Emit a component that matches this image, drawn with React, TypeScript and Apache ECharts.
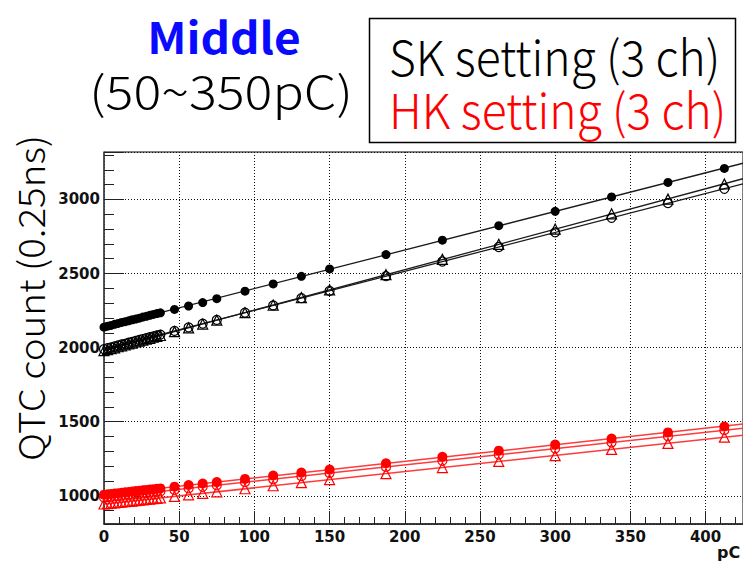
import React, { useEffect, useRef } from "react";
import * as echarts from "echarts";

// Injected charge (pC) for each measurement point
const charge = [
  0, 2.34, 4.69, 7.03, 9.38, 11.72, 14.06, 16.41, 18.75, 21.09, 23.44, 25.78,
  28.13, 30.47, 32.81, 35.16, 37.5, 46.88, 56.25, 65.63, 75, 93.75, 112.5,
  131.25, 150, 187.5, 225, 262.5, 300, 337.5, 375, 412.5,
];

// SK setting, three channels (QTC count, 0.25 ns)
const skCh1 = [
  2138, 2145, 2150, 2157, 2163, 2170, 2175, 2181, 2188, 2193, 2199, 2206,
  2211, 2218, 2224, 2230, 2235, 2258, 2281, 2304, 2330, 2381, 2430, 2481,
  2531, 2628, 2725, 2823, 2920, 3017, 3115, 3209,
];
const skCh2 = [
  1990, 1996, 2002, 2008, 2015, 2021, 2026, 2033, 2039, 2045, 2052, 2058,
  2064, 2070, 2076, 2083, 2088, 2113, 2137, 2162, 2187, 2236, 2285, 2334,
  2383, 2482, 2581, 2679, 2778, 2876, 2975, 3072,
];
const skCh3 = [
  1980, 1986, 1993, 1999, 2006, 2012, 2019, 2025, 2031, 2038, 2044, 2050,
  2057, 2063, 2070, 2076, 2082, 2108, 2133, 2159, 2185, 2236, 2287, 2338,
  2390, 2492, 2596, 2697, 2800, 2903, 3002, 3104,
];

// HK setting, three channels
const hkCh1 = [
  1008, 1011, 1013, 1016, 1018, 1021, 1024, 1026, 1029, 1032, 1034, 1037,
  1040, 1042, 1045, 1048, 1050, 1062, 1073, 1083, 1093, 1114, 1137, 1157,
  1177, 1220, 1263, 1305, 1346, 1387, 1428, 1468,
];
const hkCh2 = [
  988, 991, 993, 996, 998, 1001, 1004, 1006, 1009, 1011, 1014, 1017, 1019,
  1022, 1024, 1027, 1030, 1040, 1050, 1061, 1071, 1092, 1112, 1133, 1154,
  1195, 1236, 1278, 1319, 1360, 1402, 1443,
];
const hkCh3 = [
  945, 948, 950, 953, 955, 958, 960, 963, 965, 968, 971, 973, 976, 978, 981,
  983, 986, 996, 1007, 1017, 1027, 1048, 1068, 1089, 1109, 1150, 1191, 1232,
  1271, 1313, 1354, 1396,
];

const X_MIN = 0;
const X_MAX = 424.9;
const Y_MIN = 810;
const Y_MAX = 3320;

const titleText = "Middle";
const rangeText = "(50~350pC)";
const legendTexts = ["SK setting (3 ch)", "HK setting (3 ch)"];
const yAxisTitle = "QTC count (0.25ns)";
const xAxisTitle = "pC";

const BLACK = "#000000";
const RED = "#ff0000";
const GOTHIC = '"Noto Sans CJK JP", "Noto Sans", sans-serif';

function linearFit(xs: number[], ys: number[]): [number, number] {
  const n = xs.length;
  let sx = 0, sy = 0, sxx = 0, sxy = 0;
  for (let i = 0; i < n; i++) {
    sx += xs[i];
    sy += ys[i];
    sxx += xs[i] * xs[i];
    sxy += xs[i] * ys[i];
  }
  const slope = (n * sxy - sx * sy) / (n * sxx - sx * sx);
  const intercept = (sy - slope * sx) / n;
  return [intercept, slope];
}

function pairs(ys: number[]) {
  return charge.map((x, i) => [x, ys[i]]);
}

function fitLine(ys: number[], color: string, width: number) {
  const [a, b] = linearFit(charge, ys);
  return {
    type: "line",
    data: [
      [X_MIN, a + b * X_MIN],
      [X_MAX, a + b * X_MAX],
    ],
    showSymbol: false,
    silent: true,
    z: 1,
    lineStyle: { color, width },
  };
}

function markers(ys: number[], color: string, symbol: string, size: number, filled: boolean) {
  return {
    type: "scatter",
    data: pairs(ys),
    symbol,
    symbolSize: size,
    z: 3,
    itemStyle: filled
      ? { color, borderWidth: 0, opacity: 1 }
      : { color: "rgba(255,255,255,0)", borderColor: color, borderWidth: 1.2, opacity: 1 },
  };
}

function label(
  text: string,
  x: number,
  y: number,
  font: string,
  fill: string,
  align: string,
  extra: Record<string, unknown> = {}
) {
  return {
    type: "text",
    x,
    y,
    ...extra,
    style: {
      text,
      font,
      fill,
      textAlign: align,
      textVerticalAlign: "middle",
      align,
      verticalAlign: "middle",
    },
  };
}

export default function App() {
  const ref = useRef<HTMLDivElement>(null);

  useEffect(() => {
    if (!ref.current) return;
    const chart = echarts.init(ref.current, null, { renderer: "svg" });

    const tickLabel = {
      fontFamily: '"DejaVu Sans", sans-serif',
      fontWeight: "bold" as const,
      fontSize: 15,
      color: "#111",
      formatter: (v: number) => String(v),
    };

    chart.setOption({
      animation: false,
      backgroundColor: "#ffffff",
      grid: {
        left: 104,
        right: -6,
        top: 152,
        bottom: 37,
        show: true,
        borderColor: "#000",
        borderWidth: 1,
        backgroundColor: "transparent",
      },
      xAxis: {
        type: "value",
        min: X_MIN,
        max: X_MAX,
        splitNumber: 8,
        axisLine: { show: true, onZero: false, lineStyle: { color: "#222", width: 1.5 } },
        axisTick: { show: true, inside: true, length: 13, lineStyle: { color: "#222", width: 1 } },
        minorTick: { show: true, splitNumber: 5, length: 7, lineStyle: { color: "#222", width: 1 } },
        splitLine: { show: true, lineStyle: { color: "#111", width: 1, type: [1, 2] } },
        axisLabel: { ...tickLabel, margin: 5, showMaxLabel: false },
      },
      yAxis: {
        type: "value",
        min: Y_MIN,
        max: Y_MAX,
        splitNumber: 5,
        axisLine: { show: true, onZero: false, lineStyle: { color: "#444", width: 1.5 } },
        axisTick: { show: true, inside: true, length: 20, lineStyle: { color: "#222", width: 1 } },
        minorTick: { show: true, splitNumber: 5, length: 10, lineStyle: { color: "#222", width: 1 } },
        splitLine: { show: true, lineStyle: { color: "#111", width: 1, type: [1, 2] } },
        axisLabel: { ...tickLabel, margin: 4, showMinLabel: false, showMaxLabel: false },
      },
      series: [
        fitLine(skCh1, "#1a1a1a", 1.3),
        fitLine(skCh2, "#1a1a1a", 1.3),
        fitLine(skCh3, "#1a1a1a", 1.3),
        fitLine(hkCh1, "#ff3a3a", 1.5),
        fitLine(hkCh2, "#ff3a3a", 1.5),
        fitLine(hkCh3, "#ff3a3a", 1.5),
        markers(skCh1, BLACK, "circle", 9, true),
        markers(skCh2, BLACK, "circle", 9, false),
        markers(skCh3, BLACK, "triangle", 10, false),
        markers(hkCh1, RED, "circle", 10, true),
        markers(hkCh2, RED, "circle", 9, false),
        markers(hkCh3, RED, "triangle", 10, false),
      ],
      graphic: [
        label(titleText, 224, 35, `bold 46px ${GOTHIC}`, "#0a0aff", "center", { scaleY: 0.95 }),
        label(rangeText, 221, 90, `300 46px ${GOTHIC}`, "#000", "center", { scaleX: 1.13, scaleY: 0.98 }),
        {
          type: "rect",
          shape: { x: 369.5, y: 18.5, width: 366, height: 124 },
          style: { fill: "#fff", stroke: "#000", lineWidth: 1.5 },
        },
        label(legendTexts[0], 389, 55, `300 44px ${GOTHIC}`, "#000", "left", { scaleX: 1.05, scaleY: 1.1 }),
        label(legendTexts[1], 389, 108, `300 44px ${GOTHIC}`, RED, "left", { scaleX: 1.05, scaleY: 1.1 }),
        label(yAxisTitle, 30, 298, `300 36px ${GOTHIC}`, "#000", "center", {
          rotation: Math.PI / 2,
          scaleX: 1.07,
        }),
        label(xAxisTitle, 717, 552, `bold 16px "DejaVu Sans", sans-serif`, "#111", "left"),
      ],
    });

    return () => chart.dispose();
  }, []);

  return (
    <div
      ref={ref}
      style={{ position: "fixed", left: 0, top: 0, width: 743, height: 561, background: "#fff" }}
    />
  );
}
